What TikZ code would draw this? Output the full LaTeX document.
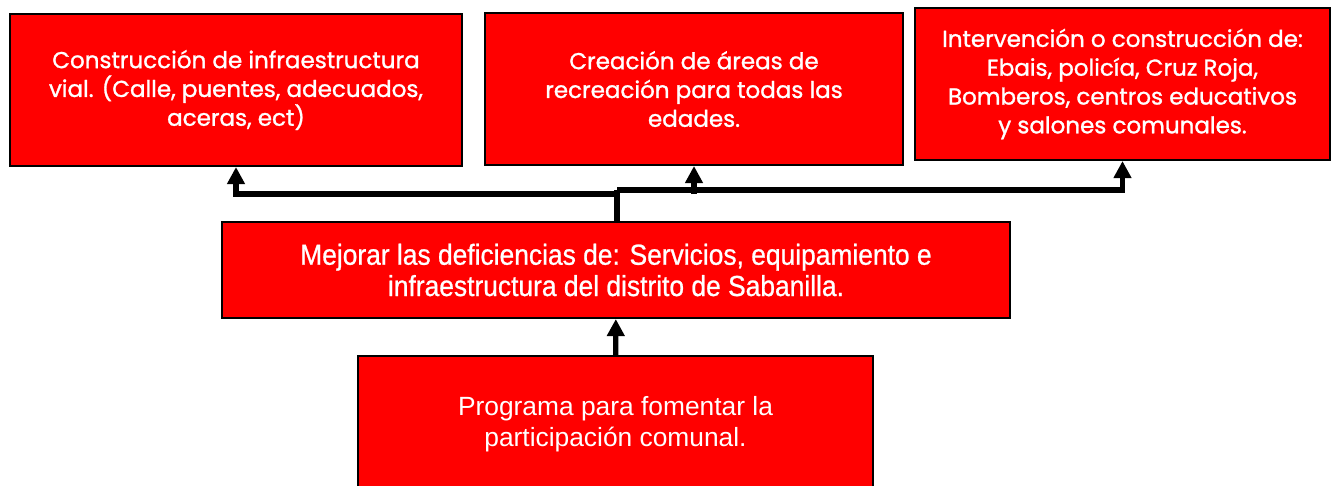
\documentclass[tikz,border=0pt]{standalone}
\usepackage{fontspec}
\setmainfont{Liberation Sans}
\newfontfamily\gothicfont[FakeBold=1.2]{Poppins}
\newfontfamily\narrowfont[FakeStretch=0.91, FakeBold=0.8]{Liberation Sans}
\usetikzlibrary{arrows.meta}

\begin{document}
\begin{tikzpicture}[x=0.02cm, y=-0.02cm,
            redbox/.style={rectangle, draw=black, fill=red, line width=1.2pt, text=white, align=center, inner sep=0pt},
            topbox/.style={redbox, minimum height=3.04cm, font=\gothicfont\fontsize{13.1}{16.4}\selectfont},
            link/.style={line width=3pt, -{Triangle[length=3.4mm, width=3.4mm]}},
        ]
        \useasboundingbox (0,0) rectangle (1336,485);
        \clip (0,0) rectangle (1336,485);

        \node[topbox, minimum width=9.04cm] (vial) at (236,90) {Construcción de infraestructura\\vial. (Calle, puentes, adecuados,\\aceras, ect)};
        \node[topbox, minimum width=8.36cm] (recreo) at (694,89) {Creación de áreas de\\recreación para todas las\\edades.};
        \node[topbox, minimum width=8.3cm] (servicios) at (1122.5,84) {Intervención o construcción de:\\Ebais, policía, Cruz Roja,\\Bomberos, centros educativos\\y salones comunales.};
        \node[redbox, minimum width=15.76cm, minimum height=1.92cm, font=\narrowfont\fontsize{16.5}{17.8}\selectfont] (mejorar) at (616,270) {Mejorar las deficiencias de: Servicios, equipamiento e\\infraestructura del distrito de Sabanilla.};
        \node[redbox, minimum width=10.3cm, minimum height=2.72cm, font=\fontsize{15}{17.4}\selectfont] (programa) at (615.5,424) {Programa para fomentar la\\participación comunal.};

        \coordinate (split) at (617,190);
        \coordinate (bend) at (694,194);

        \draw[link] (programa) -- (mejorar);
        \draw[line width=3pt] (mejorar.north -| split) -- (split);
        \draw[link] (split) -| (servicios.south);
        \draw[link] (split |- bend) -| (vial.south);
        \draw[link] (bend) -- (recreo.south);
    \end{tikzpicture}
\end{document}
